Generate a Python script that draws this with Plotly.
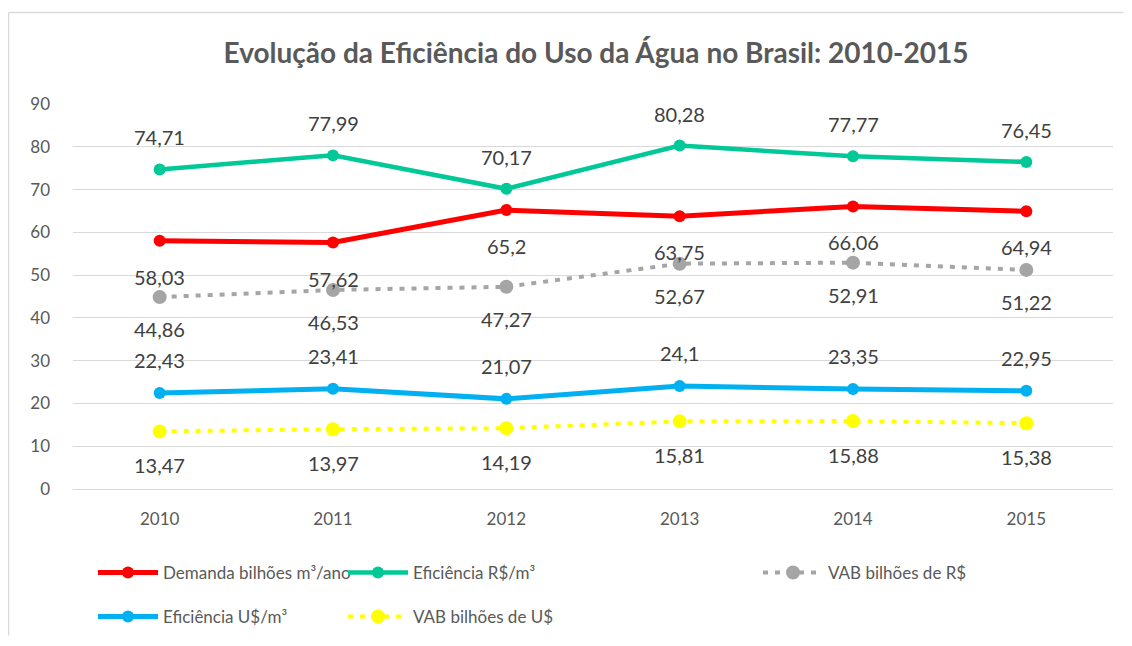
import plotly.graph_objects as go

years = ["2010", "2011", "2012", "2013", "2014", "2015"]
demanda = [58.03, 57.62, 65.2, 63.75, 66.06, 64.94]
efic_rs = [74.71, 77.99, 70.17, 80.28, 77.77, 76.45]
vab_rs = [44.86, 46.53, 47.27, 52.67, 52.91, 51.22]
efic_us = [22.43, 23.41, 21.07, 24.1, 23.35, 22.95]
vab_us = [13.47, 13.97, 14.19, 15.81, 15.88, 15.38]

names = ["Demanda bilhões m³/ano", "Eficiência R$/m³", "VAB bilhões de R$",
         "Eficiência U$/m³", "VAB bilhões de U$"]
series = [demanda, efic_rs, vab_rs, efic_us, vab_us]
colors = ["#FF0000", "#00C896", "#A5A5A5", "#00B0F0", "#FFFF00"]
dashes = ["solid", "solid", "5px,7px", "solid", "5px,7px"]
widths = [5, 4.5, 4, 5, 4]
msizes = [12, 12, 14, 12, 14]
label_shift = [-36, 32, -32, 33, -34]
legends = ["legend", "legend2", "legend3", "legend4", "legend5"]

FONT = "Lato"
OFF = 8  # page body margin
W, H = 1132 - 2 * OFF, 646 - 2 * OFF - 2
# plot area in screen pixels
SX0, SX1, SY0, SY1 = 73, 1113, 104, 489
L, R, T, B = SX0 - OFF, W - (SX1 - OFF), SY0 - OFF, H - (SY1 - OFF)
pw, ph = W - L - R, H - T - B

def px2x(px):
    return (px - OFF - L) / pw

def py2y(py):
    return (H - B - (py - OFF)) / ph

fig = go.Figure()
for name, vals, c, d, w, ms, lg in zip(names, series, colors, dashes, widths, msizes, legends):
    fig.add_trace(go.Scatter(
        x=years, y=vals, name=name, mode="lines+markers",
        line=dict(color=c, width=w, dash=d),
        marker=dict(color=c, size=ms),
        legend=lg, hoverinfo="skip", showlegend=True,
    ))

annotations = []
for vals, sh in zip(series, label_shift):
    for i, v in enumerate(vals):
        annotations.append(dict(
            x=i, y=v, xref="x", yref="y", text=str(v).replace(".", ","),
            showarrow=False, yshift=sh,
            font=dict(family=FONT, size=20, color="#404040"),
        ))

leg_text_pos = [(163, 573), (413, 573), (828, 573), (163, 617), (413, 617)]
leg_layout = {}
for lg, (lx, ly) in zip(legends, leg_text_pos):
    leg_layout[lg] = dict(
        x=px2x(lx - 70), y=py2y(ly), xanchor="left", yanchor="middle",
        font=dict(family=FONT, size=17, color="#595959"),
        bgcolor="rgba(0,0,0,0)", borderwidth=0, itemwidth=60,
    )

border = dict(color="#D9D9D9", width=1.5)
right_edge = px2x(OFF + W - 0.5)
bottom_edge = py2y(OFF + H - 0.5)
fig.update_layout(
    width=W, height=H,
    margin=dict(l=L, r=R, t=T, b=B, autoexpand=False),
    paper_bgcolor="white", plot_bgcolor="white",
    title=dict(text="<b>Evolução da Eficiência do Uso da Água no Brasil: 2010-2015</b>",
               x=(596 - OFF) / W, xanchor="center", y=1 - (53 - OFF) / H, yanchor="middle",
               font=dict(family=FONT, size=28, color="#595959")),
    font=dict(family=FONT, size=17, color="#595959"),
    xaxis=dict(type="category", range=[-0.5, 5.5], showgrid=False, zeroline=False,
               showline=False, ticks="", ticklabelstandoff=18,
               tickfont=dict(family=FONT, size=17, color="#595959")),
    yaxis=dict(range=[0, 90], dtick=10, showgrid=True, gridcolor="#D9D9D9", gridwidth=1,
               zeroline=True, zerolinecolor="#D9D9D9", zerolinewidth=1,
               showline=False, ticks="", ticklabelstandoff=22,
               tickfont=dict(family=FONT, size=17, color="#595959")),
    annotations=annotations,
    shapes=[
        dict(type="line", xref="paper", yref="paper",
             x0=px2x(8.5), x1=right_edge, y0=py2y(12.5), y1=py2y(12.5),
             line=border, layer="below"),
        dict(type="line", xref="paper", yref="paper",
             x0=px2x(8.5), x1=px2x(8.5), y0=py2y(12.5), y1=bottom_edge,
             line=border, layer="below"),
    ],
    **leg_layout,
)

fig.write_html("out.html")
